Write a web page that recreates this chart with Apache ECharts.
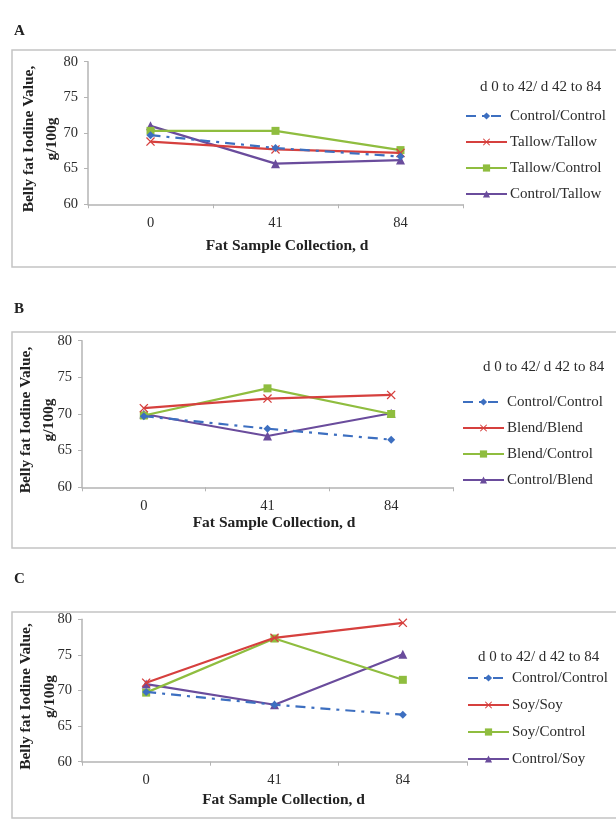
<!DOCTYPE html>
<html><head><meta charset="utf-8">
<script src="https://cdn.jsdelivr.net/npm/echarts@6/dist/echarts.min.js"></script>
<style>html,body{margin:0;padding:0;background:#fff}#c{width:616px;height:820px}</style>
</head><body><div id="c"></div><script>
// ---- data ----
const categories = ['0', '41', '84'];
const xAxisTitle = 'Fat Sample Collection, d';
const yAxisTitle = 'Belly fat Iodine Value,\ng/100g';
const legendTitle = 'd 0 to 42/ d 42 to 84';
const panelLabels = ['A', 'B', 'C'];

const namesA = ['Control/Control', 'Tallow/Tallow', 'Tallow/Control', 'Control/Tallow'];
const controlA = [69.7, 67.9, 66.7];
const tallowTallow = [68.8, 67.7, 67.2];
const tallowControl = [70.3, 70.3, 67.6];
const controlTallow = [71.0, 65.7, 66.2];

const namesB = ['Control/Control', 'Blend/Blend', 'Blend/Control', 'Control/Blend'];
const controlB = [69.7, 68.0, 66.5];
const blendBlend = [70.8, 72.1, 72.6];
const blendControl = [69.8, 73.5, 70.0];
const controlBlend = [70.0, 67.0, 70.1];

const namesC = ['Control/Control', 'Soy/Soy', 'Soy/Control', 'Control/Soy'];
const controlC = [69.8, 68.0, 66.6];
const soySoy = [71.1, 77.4, 79.5];
const soyControl = [69.7, 77.3, 71.5];
const controlSoy = [70.9, 68.0, 75.1];

// ---- styles ----
const FONT = '"Liberation Serif","Times New Roman","DejaVu Serif",serif';
const TXT = '#2b2b2b';
const AX = '#b4b4b4';
const colors = ['#3d6fc0', '#d6403e', '#8fbd3f', '#6a4c9c'];
const xPath = 'path://M0,1L1,0L5,4L9,0L10,1L6,5L10,9L9,10L5,6L1,10L0,9L4,5Z';
const symbols = ['diamond', xPath, 'rect', 'triangle'];
const symSizes = [8, 9, 8, 9];

const panels = [
  { names: namesA, data: [controlA, tallowTallow, tallowControl, controlTallow],
    grid: { left: 88, top: 61.7, width: 375, height: 142.6 },
    box: [12, 50, 620, 217], label: [14, 24],
    xGap: 34, xPad: 11.5, yGap: 24,
    legend: { left: 465, top: 108, gap: 10, w: 41 }, ltitle: [480, 80] },
  { names: namesB, data: [controlB, blendBlend, blendControl, controlBlend],
    grid: { left: 82, top: 340.7, width: 371, height: 146.6 },
    box: [12, 332, 620, 216], label: [14, 302],
    xGap: 28, xPad: 6.5, yGap: 21,
    legend: { left: 462, top: 394, gap: 10, w: 41 }, ltitle: [483, 360] },
  { names: namesC, data: [controlC, soySoy, soyControl, controlSoy],
    grid: { left: 82, top: 619.3, width: 385, height: 142.4 },
    box: [12, 612, 620, 206], label: [14, 572],
    xGap: 30, xPad: 9, yGap: 20.5,
    legend: { left: 467, top: 670, gap: 11, w: 41 }, ltitle: [478, 650] }
];

const option = {
  backgroundColor: '#fff',
  animation: false,
  grid: [], xAxis: [], yAxis: [], series: [], legend: [], title: [],
  graphic: []
};

panels.forEach((p, i) => {
  option.graphic.push({ type: 'rect', silent: true, z: -1,
    shape: { x: p.box[0], y: p.box[1], width: p.box[2], height: p.box[3] },
    style: { fill: 'none', stroke: '#c4c4c4', lineWidth: 1.5 } });
  option.title.push({ text: panelLabels[i], left: p.label[0], top: p.label[1], padding: 0,
    textStyle: { fontFamily: FONT, fontSize: 15, fontWeight: 'bold', color: '#222' } });
  option.title.push({ text: legendTitle, left: p.ltitle[0], top: p.ltitle[1], padding: 0,
    textStyle: { fontFamily: FONT, fontSize: 15, fontWeight: 'normal', color: TXT } });
  option.grid.push(Object.assign({ containLabel: false, outerBoundsMode: 'none' }, p.grid));
  option.xAxis.push({
    type: 'category', gridIndex: i, data: categories, boundaryGap: true,
    name: xAxisTitle, nameLocation: 'middle', nameGap: p.xGap, nameMoveOverlap: false,
    nameTextStyle: { fontFamily: FONT, fontSize: 15.5, fontWeight: 'bold', color: '#222', padding: [0, 0, 0, p.xPad * 2] },
    axisLine: { lineStyle: { color: AX, width: 1.5 } },
    axisTick: { show: true, length: 4, lineStyle: { color: AX } },
    axisLabel: { fontFamily: FONT, fontSize: 14.5, color: TXT, margin: 11 },
    splitLine: { show: false }
  });
  option.yAxis.push({
    type: 'value', gridIndex: i, min: 60, max: 80, interval: 5,
    name: yAxisTitle, nameLocation: 'middle', nameRotate: 90, nameGap: p.yGap, nameMoveOverlap: false,
    nameTextStyle: { fontFamily: FONT, fontSize: 15.5, fontWeight: 'bold', color: '#222', lineHeight: 23.5, align: 'center', padding: [0, 12, 0, 0] },
    axisLine: { show: true, lineStyle: { color: AX, width: 1.5 } },
    axisTick: { show: true, length: 4, lineStyle: { color: AX } },
    axisLabel: { fontFamily: FONT, fontSize: 14.5, color: TXT, margin: 10 },
    splitLine: { show: false }
  });
  p.names.forEach((n, k) => {
    option.series.push({
      name: n, type: 'line', xAxisIndex: i, yAxisIndex: i, data: p.data[k],
      symbol: symbols[k], symbolSize: symSizes[k], showSymbol: true,
      itemStyle: { color: colors[k] },
      lineStyle: { color: colors[k], width: 2.2, type: k === 0 ? [10, 6, 3, 6] : 'solid' },
      z: 10 - k
    });
  });
  option.legend.push({
    orient: 'vertical', left: p.legend.left, top: p.legend.top,
    itemWidth: p.legend.w, itemHeight: 9, itemGap: p.legend.gap, padding: 0,
    data: p.names.map(n => ({ name: n })),
    selectedMode: false,
    textStyle: { fontFamily: FONT, fontSize: 15, color: TXT, lineHeight: 16, padding: [0, 0, 0, -2] }
  });
});

const chart = echarts.init(document.getElementById('c'), null, { renderer: 'canvas' });
chart.setOption(option);
</script></body></html>
